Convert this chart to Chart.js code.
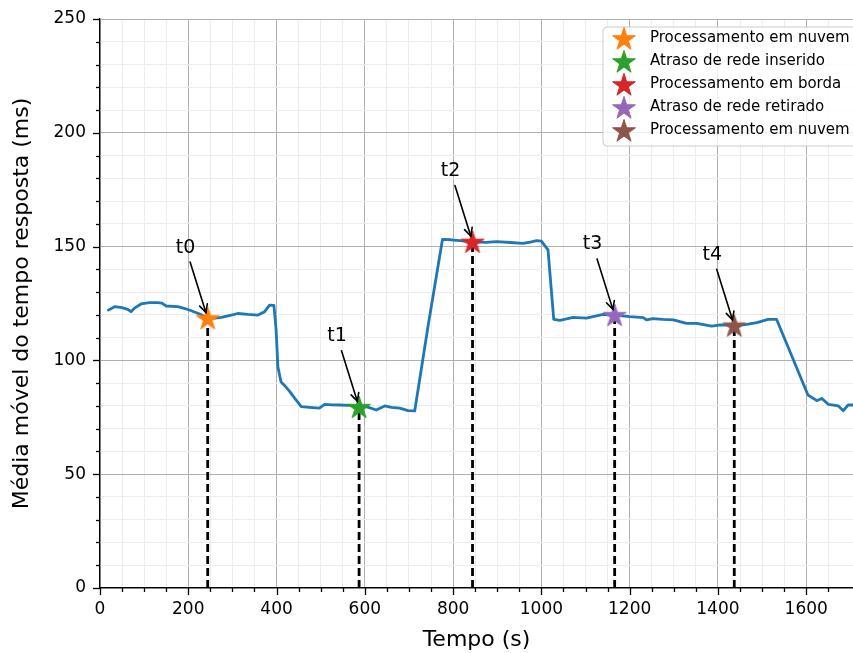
<!DOCTYPE html>
<html><head><meta charset="utf-8">
<script src="https://cdn.jsdelivr.net/npm/chart.js@4"></script>
<style>html,body{margin:0;padding:0;background:#fff}canvas{display:block}</style>
</head><body>
<canvas id="c" width="853" height="653"></canvas>
<script>
const timeX = [19,33,50,63,70,80,93,112,131,140,150,176,195,207,220,229,244,260,275,295,312,335,358,373,384,394,399,403,410,418,430,441,456,475,497,509,525,543,565,588,605,626,645,660,679,698,713,744,776,795,815,845,875,898,930,958,975,989,1000,1015,1028,1042,1057,1072,1102,1117,1140,1166,1200,1231,1238,1253,1275,1299,1314,1329,1352,1386,1405,1416,1439,1465,1488,1514,1533,1604,1624,1635,1650,1673,1684,1695,1706];
const responseY = [122.1,123.6,123.2,122.4,121.4,123.2,124.8,125.4,125.4,125.2,123.9,123.6,122.6,121.8,120.8,120.1,118.5,118.6,118.9,119.8,120.6,120.2,119.9,121.4,124.3,124.2,113.4,97.2,90.6,89,86.3,83.4,79.7,79.4,79,80.7,80.5,80.4,80.2,79.7,79.6,78.2,80,79.4,79,77.9,77.8,116,153.2,153,152.6,152.1,151.9,152.2,151.8,151.4,152,152.6,152.4,148.6,118,117.6,118.2,118.9,118.6,119.2,120.2,119.9,119.2,118.8,117.8,118.4,118,117.8,117,116.3,116.3,115.1,115.6,115.5,115.2,115.8,116.6,118,118,84.8,82.3,83.3,80.7,80,77.9,80.4,80.4];
const eventX = [244, 587, 844, 1166, 1437];
const eventY = [118.5, 79.5, 152.1, 119.9, 115.3];
const eventLabels = ['t0','t1','t2','t3','t4'];
const legendLabels = ['Processamento em nuvem','Atraso de rede inserido','Processamento em borda','Atraso de rede retirado','Processamento em nuvem'];
const eventColors = ['#ff7f0e','#2ca02c','#d62728','#9467bd','#8c564b'];
const xTickLabels = [0,200,400,600,800,1000,1200,1400,1600];
const yTickLabels = [0,50,100,150,200,250];
const labelOffset = {dx: -50, dy: 31};

const FONT = "'DejaVu Sans', sans-serif";
const STAR_R = 12;
function starPath(ctx, cx, cy, R) {
  const r = R * 0.381966;
  ctx.beginPath();
  for (let i = 0; i < 10; i++) {
    const a = -Math.PI / 2 + i * Math.PI / 5;
    const rad = i % 2 === 0 ? R : r;
    const px = cx + rad * Math.cos(a), py = cy + rad * Math.sin(a);
    if (i === 0) ctx.moveTo(px, py); else ctx.lineTo(px, py);
  }
  ctx.closePath();
}
function drawStar(ctx, cx, cy, R, color) {
  starPath(ctx, cx, cy, R);
  ctx.fillStyle = color; ctx.fill();
  ctx.strokeStyle = color; ctx.lineWidth = 1; ctx.stroke();
}
function starImg(color) {
  const s = Math.ceil(STAR_R * 2 + 4);
  const cv = document.createElement('canvas');
  cv.width = s; cv.height = s;
  drawStar(cv.getContext('2d'), s / 2, s / 2 + 1, STAR_R, color);
  return cv;
}

const bgPlugin = {
  id: 'bg',
  beforeDraw(chart) {
    const c = chart.ctx; c.save(); c.fillStyle = '#fff';
    c.fillRect(0, 0, chart.width, chart.height); c.restore();
  }
};

const tickPlugin = {
  id: 'tickmarks',
  afterDraw(chart) {
    const c = chart.ctx, xs = chart.scales.x, ys = chart.scales.y, a = chart.chartArea;
    c.save(); c.strokeStyle = '#000'; c.lineWidth = 1.3;
    xs.ticks.forEach(t => {
      const px = Math.round(xs.getPixelForValue(t.value)) + 0.5;
      const len = xTickLabels.includes(t.value) ? 7 : 4;
      c.beginPath(); c.moveTo(px, a.bottom); c.lineTo(px, a.bottom + len); c.stroke();
    });
    ys.ticks.forEach(t => {
      const py = Math.round(ys.getPixelForValue(t.value)) + 0.5;
      const len = yTickLabels.includes(t.value) ? 7 : 4;
      c.beginPath(); c.moveTo(a.left, py); c.lineTo(a.left - len, py); c.stroke();
    });
    c.restore();
  }
};

const annotPlugin = {
  id: 'annot',
  afterDatasetsDraw(chart) {
    const c = chart.ctx, xs = chart.scales.x, ys = chart.scales.y;
    c.save();
    c.font = '19px ' + FONT; c.fillStyle = '#000'; c.textAlign = 'center'; c.textBaseline = 'middle';
    eventX.forEach((ex, i) => {
      const tx = xs.getPixelForValue(ex + labelOffset.dx), ty = ys.getPixelForValue(eventY[i] + labelOffset.dy);
      const px = xs.getPixelForValue(ex), py = ys.getPixelForValue(eventY[i]);
      c.fillText(eventLabels[i], tx, ty);
      const dx = px - tx, dy = py - ty, L = Math.hypot(dx, dy), ux = dx / L, uy = dy / L;
      const startT = 11 / Math.abs(uy) + 3.5;
      const sx = tx + ux * startT, sy = ty + uy * startT;
      const exx = px - ux * 6, eyy = py - uy * 6;
      c.strokeStyle = '#000'; c.lineWidth = 1.6; c.lineCap = 'round';
      c.beginPath(); c.moveTo(sx, sy); c.lineTo(exx, eyy); c.stroke();
      const hl = 8, hw = 4;
      const bx = exx - ux * hl, by = eyy - uy * hl;
      c.beginPath();
      c.moveTo(bx - uy * hw, by + ux * hw); c.lineTo(exx, eyy); c.lineTo(bx + uy * hw, by - ux * hw);
      c.stroke();
    });
    c.restore();
  }
};

const legendPlugin = {
  id: 'customLegend',
  afterDraw(chart) {
    const c = chart.ctx;
    const x0 = 603, y0 = 27, w = 262, h = 119, r = 4;
    c.save();
    c.beginPath();
    c.moveTo(x0 + r, y0); c.lineTo(x0 + w - r, y0); c.arcTo(x0 + w, y0, x0 + w, y0 + r, r);
    c.lineTo(x0 + w, y0 + h - r); c.arcTo(x0 + w, y0 + h, x0 + w - r, y0 + h, r);
    c.lineTo(x0 + r, y0 + h); c.arcTo(x0, y0 + h, x0, y0 + h - r, r);
    c.lineTo(x0, y0 + r); c.arcTo(x0, y0, x0 + r, y0, r); c.closePath();
    c.fillStyle = 'rgba(255,255,255,0.8)'; c.fill();
    c.strokeStyle = '#cccccc'; c.lineWidth = 1; c.stroke();
    c.font = '15px ' + FONT; c.textAlign = 'left'; c.textBaseline = 'middle';
    legendLabels.forEach((lab, i) => {
      const cy = 38.5 + i * 23;
      drawStar(c, 624, cy + 1, STAR_R, eventColors[i]);
      c.fillStyle = '#000';
      c.fillText(lab, 650, cy);
    });
    c.restore();
  }
};

const datasets = [
  {
    label: 'resp',
    data: timeX.map((x, i) => ({x: x, y: responseY[i]})),
    showLine: true, borderColor: '#1f77b4', borderWidth: 2.8, pointRadius: 0,
    order: 3, tension: 0, borderJoinStyle: 'round', borderCapStyle: 'round'
  }
];
eventX.forEach((x, i) => datasets.push({
  label: 'dash' + i,
  data: [{x: x, y: 0}, {x: x, y: eventY[i]}],
  showLine: true, borderColor: '#000', borderWidth: 2.8, borderDash: [8, 4],
  pointRadius: 0, order: 2
}));
eventX.forEach((x, i) => datasets.push({
  label: legendLabels[i],
  data: [{x: x, y: eventY[i]}],
  pointStyle: starImg(eventColors[i]), pointRadius: 11,
  backgroundColor: eventColors[i], borderColor: eventColors[i], order: 1
}));

new Chart(document.getElementById('c'), {
  type: 'scatter',
  data: {datasets: datasets},
  plugins: [bgPlugin, tickPlugin, annotPlugin, legendPlugin],
  options: {
    responsive: false, animation: false, devicePixelRatio: 1,
    layout: {autoPadding: false, padding: {top: 19, right: 0, left: 0, bottom: 0}},
    plugins: {legend: {display: false}, tooltip: {enabled: false}},
    scales: {
      x: {
        type: 'linear', min: 0, max: 1706,
        afterBuildTicks(s) { s.ticks = s.ticks.filter(t => t.value % 50 === 0); },
        afterFit(s) { s.height = 65; s.paddingLeft = 0; s.paddingRight = 0; },
        ticks: {
          stepSize: 50, autoSkip: false, maxRotation: 0, padding: 11,
          color: '#000', font: {family: FONT, size: 17},
          callback: v => xTickLabels.includes(v) ? String(v) : ''
        },
        grid: {
          drawTicks: false,
          color: ctx => (ctx.tick && xTickLabels.includes(ctx.tick.value)) ? '#b0b0b0' : '#ececec',
          lineWidth: 1
        },
        border: {display: true, color: '#000', width: 1.3},
        title: {display: true, text: 'Tempo (s)', color: '#000', font: {family: FONT, size: 22}, padding: {top: 0, bottom: 0}}
      },
      y: {
        type: 'linear', min: 0, max: 250,
        afterBuildTicks(s) { s.ticks = s.ticks.filter(t => t.value % 10 === 0); },
        afterFit(s) { s.width = 100; s.paddingTop = 0; s.paddingBottom = 0; },
        ticks: {
          stepSize: 10, autoSkip: false, padding: 14,
          color: '#000', font: {family: FONT, size: 17},
          callback: v => yTickLabels.includes(v) ? String(v) : ''
        },
        grid: {
          drawTicks: false,
          color: ctx => (ctx.tick && yTickLabels.includes(ctx.tick.value)) ? '#b0b0b0' : '#ececec',
          lineWidth: 1
        },
        border: {display: true, color: '#000', width: 1.3},
        title: {display: true, text: 'Média móvel do tempo resposta (ms)', color: '#000', font: {family: FONT, size: 22}, padding: {top: 9, bottom: 0}}
      }
    }
  }
});
</script>
</body></html>
